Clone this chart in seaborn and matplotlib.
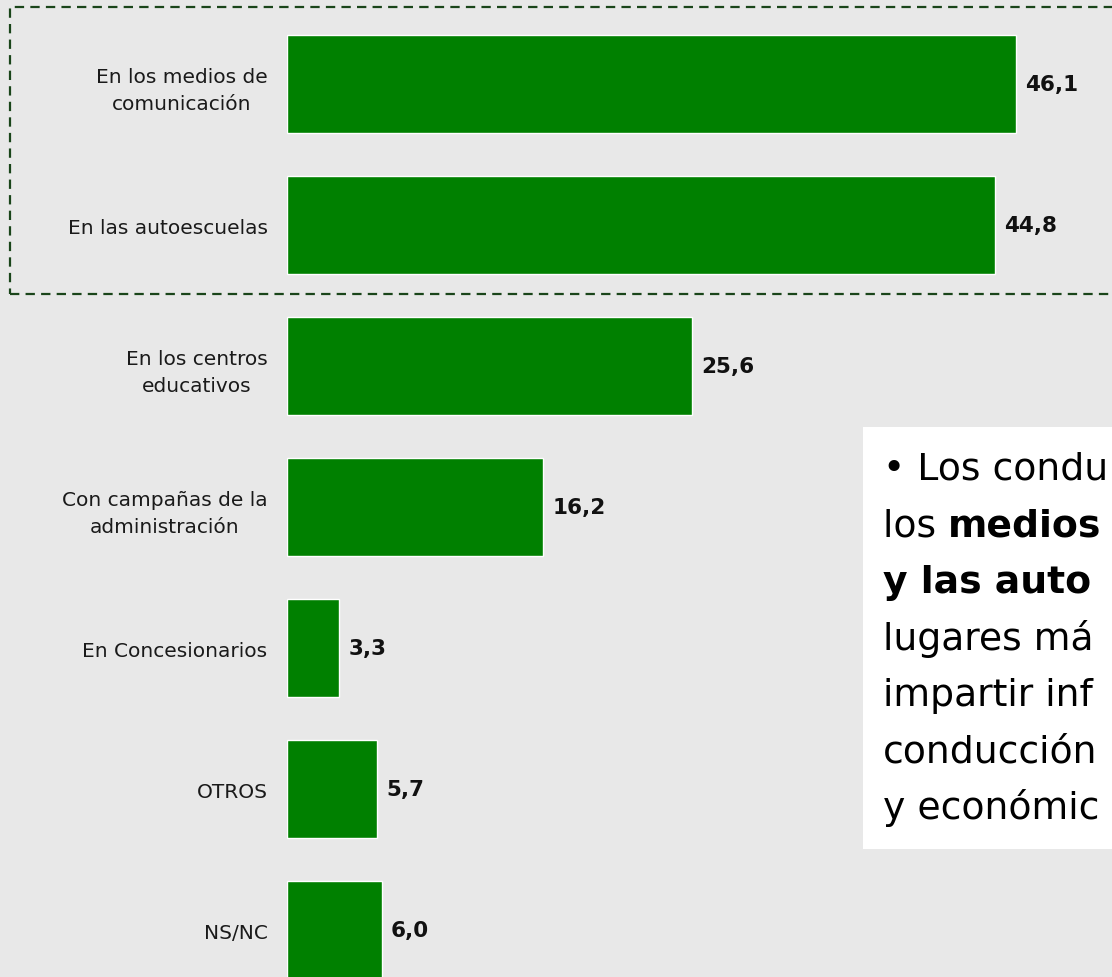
import matplotlib
matplotlib.use("Agg")
import matplotlib.pyplot as plt
import seaborn as sns
from matplotlib.patches import Rectangle


# Data
categories = [
    "En los medios de\ncomunicación",
    "En las autoescuelas",
    "En los centros\neducativos",
    "Con campañas de la\nadministración",
    "En Concesionarios",
    "OTROS",
    "NS/NC",
]
values = [46.1, 44.8, 25.6, 16.2, 3.3, 5.7, 6.0]
value_labels = ["46,1", "44,8", "25,6", "16,2", "3,3", "5,7", "6,0"]

# side note (lines are cut at the right edge in the original slide)
note_lines = [
    [("• Los condu", "normal")],
    [("los ", "normal"), ("medios", "bold")],
    [("y las auto", "bold")],
    [("lugares má", "normal")],
    [("impartir inf", "normal")],
    [("conducción", "normal")],
    [("y económic", "normal")],
]

BG = "#e8e8e8"
GREEN = "#008000"
W, H = 1112, 978

sns.set_theme(style="white")
plt.rcParams["font.family"] = ["DejaVu Sans"]

fig = plt.figure(figsize=(W / 100, H / 100), dpi=100, facecolor=BG)
ax = fig.add_axes([287 / W, 0, (W - 287) / W, 1])
ax.set_facecolor(BG)

sns.barplot(x=values, y=categories, orient="h", color=GREEN, saturation=1,
            edgecolor="white", linewidth=1, width=0.70, ax=ax)

ax.set_xlim(0, (W - 287) / 15.81)
ax.set_ylim(6.333, -0.603)
ax.bar_label(ax.containers[0], labels=value_labels, padding=6.5,
             fontsize=15.5, fontweight="bold", color="#111111")

ax.set_xticks([])
ax.set_xlabel("")
ax.set_ylabel("")
ax.tick_params(axis="y", length=0, pad=14, labelsize=14.5, labelcolor="#1a1a1a")
for lbl in ax.get_yticklabels():
    lbl.set_multialignment("center")
    lbl.set_linespacing(1.5)
sns.despine(ax=ax, left=True, bottom=True)

# dashed frame around the two top answers
fig.add_artist(Rectangle((10 / W, 1 - 295 / H), (W + 20) / W, (295 - 8) / H,
                         transform=fig.transFigure, fill=False,
                         ec="#1a451a", lw=1.6, ls=(0, (4.2, 2.8)), clip_on=False))

# white note box
fig.add_artist(Rectangle((863 / W, 1 - 850 / H), (W - 863 + 20) / W, (850 - 428) / H,
                         transform=fig.transFigure, fc="white", ec="none"))

renderer = fig.canvas.get_renderer()
for i, segs in enumerate(note_lines):
    x = 883
    y = 480 + 56.5 * i
    for txt, weight in segs:
        t = fig.text(x / W, 1 - y / H, txt, fontsize=27.2, fontweight=weight,
                     color="black", va="baseline", ha="left")
        x = t.get_window_extent(renderer).x1

fig.savefig("out.png", dpi=100, facecolor=BG)
